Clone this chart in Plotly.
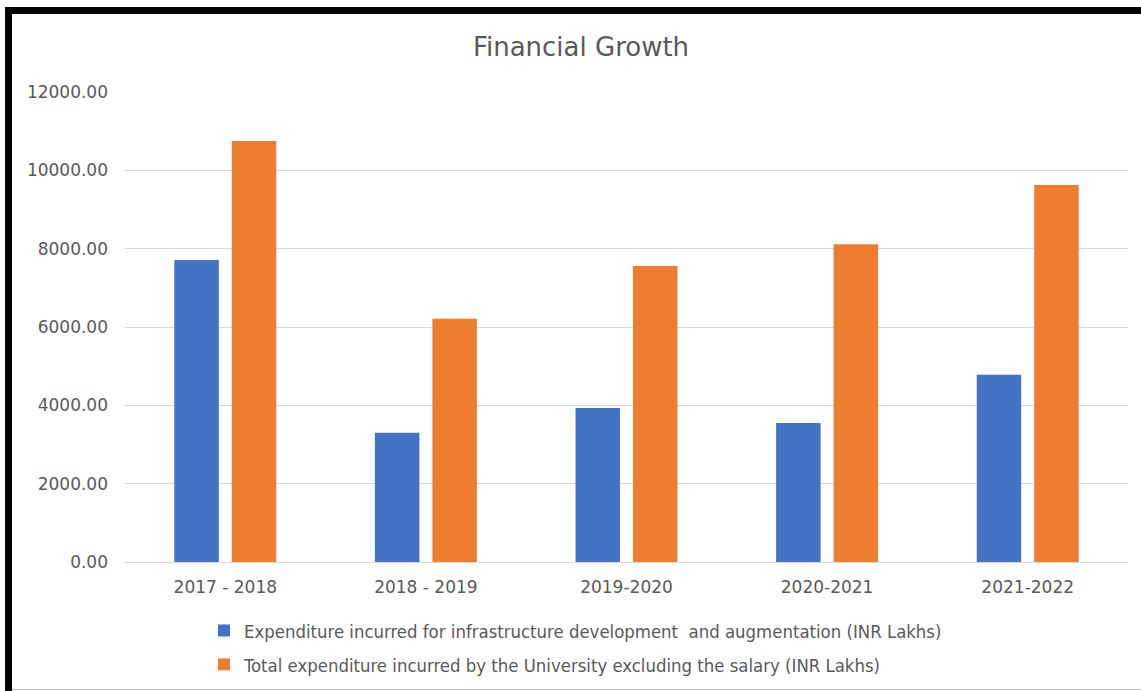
import plotly.graph_objects as go

categories = ["2017 - 2018", "2018 - 2019", "2019-2020", "2020-2021", "2021-2022"]
infra = [7710, 3300, 3930, 3550, 4780]
total = [10750, 6210, 7560, 8110, 9625]
series_names = [
    "Expenditure incurred for infrastructure development  and augmentation (INR Lakhs)",
    "Total expenditure incurred by the University excluding the salary (INR Lakhs)",
]
tick_vals = [0, 2000, 4000, 6000, 8000, 10000, 12000]

W, H = 1141, 691
L, R, T, B = 125, 13, 92, 129
pw, ph = W - L - R, H - T - B

def px_x(x):
    return (x - L) / pw

def px_y(y):
    return (H - B - y) / ph

fig = go.Figure()
fig.add_trace(go.Bar(x=categories, y=infra, name=series_names[0], legendgroup="a",
                     marker=dict(color="#4472C4", line=dict(width=0))))
fig.add_trace(go.Bar(x=categories, y=total, name=series_names[1], legendgroup="b",
                     marker=dict(color="#ED7D31", line=dict(width=0))))

tick_font = dict(family="DejaVu Sans", size=17, color="#595959")

fig.update_layout(
    width=W, height=H,
    margin=dict(l=L, r=R, t=T, b=B, pad=0, autoexpand=False),
    paper_bgcolor="white", plot_bgcolor="white",
    barmode="group", bargap=0.427, bargroupgap=0.226,
    title=dict(text="Financial Growth", xref="container", x=581 / W, xanchor="center",
               y=1 - 47 / H, yanchor="middle",
               font=dict(family="DejaVu Sans", size=26, color="#595959")),
    xaxis=dict(showgrid=False, showline=False, ticks="", tickfont=tick_font,
               ticklabelstandoff=13, automargin=False),
    yaxis=dict(range=[0, 12000], tickvals=tick_vals, tickformat=".2f",
               showgrid=True, gridcolor="#D9D9D9", gridwidth=1,
               zeroline=True, zerolinecolor="#D9D9D9", zerolinewidth=1,
               showline=False, ticks="", tickfont=tick_font,
               ticklabelstandoff=16, automargin=False),
    legend=dict(orientation="v", x=px_x(204), xanchor="left",
                y=px_y(612), yanchor="top", traceorder="grouped",
                tracegroupgap=7,
                font=dict(family="DejaVu Sans Condensed", size=18.4, color="#595959"),
                bgcolor="rgba(0,0,0,0)", itemclick=False),
    showlegend=True,
    shapes=[
        dict(type="line", xref="paper", yref="paper",
             x0=px_x(8.5), x1=px_x(W + 5), y0=px_y(10.5), y1=px_y(10.5),
             line=dict(color="black", width=7)),
        dict(type="line", xref="paper", yref="paper",
             x0=px_x(8.5), x1=px_x(8.5), y0=px_y(7), y1=px_y(H + 5),
             line=dict(color="black", width=7)),
        dict(type="line", xref="paper", yref="paper",
             x0=px_x(12), x1=px_x(W + 5), y0=px_y(689.5), y1=px_y(689.5),
             line=dict(color="#BFBFBF", width=1)),
    ],
)

fig.write_html("out.html", config={"displayModeBar": False},
               post_script="document.body.style.margin='0';document.body.style.overflow='hidden';")
